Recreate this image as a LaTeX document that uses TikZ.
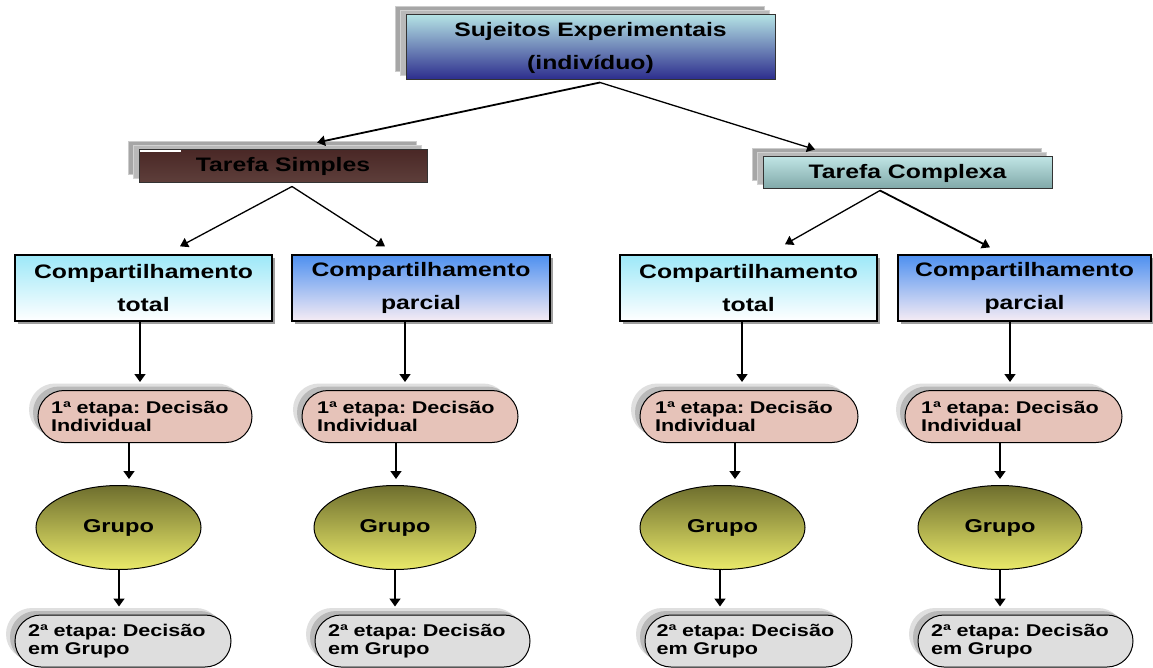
\documentclass[tikz,border=0pt]{standalone}
\usepackage{fontspec}
\setmainfont{Liberation Sans}[FakeStretch=1.27]
\usetikzlibrary{shadows,shapes.geometric,arrows.meta,calc}
\definecolor{topT}{HTML}{B4E2E4}
\definecolor{topB}{HTML}{2B2B8C}
\definecolor{tsT}{HTML}{4A2826}
\definecolor{tsB}{HTML}{5E3F3B}
\definecolor{tcT}{HTML}{BFE4E4}
\definecolor{tcB}{HTML}{7FA7A7}
\definecolor{bAT}{HTML}{9DE8F8}
\definecolor{bBT}{HTML}{4E90F0}
\definecolor{bBB}{HTML}{F6ECF4}
\definecolor{pillA}{HTML}{E6C3B9}
\definecolor{pillB}{HTML}{DEDEDE}
\definecolor{ellT}{HTML}{6E6E2E}
\definecolor{ellB}{HTML}{EAEA6A}
\frenchspacing
\begin{document}
\begin{tikzpicture}[x=1pt,y=-1pt,
  arr/.style={-{Triangle[length=8pt,width=10pt]}, line width=1.3pt},
  varr/.style={-{Triangle[length=8pt,width=11pt]}, line width=1.6pt},
  stackshadow/.style={
    drop shadow={shadow xshift=-11pt,shadow yshift=8pt,fill=gray!70,draw=gray!40,opacity=1},
    drop shadow={shadow xshift=-6pt,shadow yshift=4pt,fill=gray!55,draw=gray!35,opacity=1}},
  headbox/.style={rectangle, draw=black!80, line width=1pt, inner sep=0pt, align=center,
    font=\fontsize{19.5}{33}\selectfont\bfseries, stackshadow},
  compbox/.style={rectangle, draw=black, line width=1.3pt, inner sep=0pt, align=center,
    minimum height=66pt, font=\fontsize{19.5}{33}\selectfont\bfseries,
    drop shadow={shadow xshift=3pt,shadow yshift=-3pt,fill=gray!75,opacity=1}},
  pillshadow/.style={
    drop shadow={shadow xshift=-9pt,shadow yshift=7pt,fill=gray!25,opacity=1},
    drop shadow={shadow xshift=-5pt,shadow yshift=4pt,fill=gray!55,opacity=1}},
  pill/.style={rectangle, rounded corners=26pt, draw=black, line width=1pt,
    minimum height=52pt, inner sep=0pt, align=left,
    execute at begin node={\hyphenpenalty=10000\relax},
    font=\fontsize{17}{18.5}\selectfont\bfseries, pillshadow},
  grupo/.style={ellipse, draw=black, line width=1pt, inner sep=0pt,
    minimum width=165pt, minimum height=84pt, top color=ellT, bottom color=ellB,
    font=\fontsize{18.6}{22}\selectfont\bfseries}
]
\useasboundingbox[fill=white] (0,0) rectangle (1153,668);

% heads
\node[headbox, minimum width=369pt, minimum height=65pt, top color=topT, bottom color=topB]
  (se) at (590.5,47.5) {Sujeitos Experimentais\\(indivíduo)};
\node[headbox, minimum width=288pt, minimum height=33pt, top color=tsT, bottom color=tsB]
  (ts) at (283,166.5) {Tarefa Simples};
\draw[white, line width=2pt] ($(ts.north west)+(1,2)$) -- ($(ts.north west)+(42,2)$);
\node[headbox, minimum width=289pt, minimum height=32pt, top color=tcT, bottom color=tcB]
  (tc) at (907.5,173) {Tarefa Complexa};

% compartilhamento boxes
\node[compbox, minimum width=257pt, top color=bAT, bottom color=white] (b1) at (143.5,288) {Compartilhamento\\total};
\node[compbox, minimum width=258pt, top color=bBT, bottom color=bBB] (b2) at (421,288) {Compartilhamento\\parcial};
\node[compbox, minimum width=257pt, top color=bAT, bottom color=white] (b3) at (748.5,288) {Compartilhamento\\total};
\node[compbox, minimum width=253pt, top color=bBT, bottom color=bBB] (b4) at (1024.5,288) {Compartilhamento\\parcial};

% first stage pills
\node[pill, fill=pillA, minimum width=214pt, text width=188pt] (p1) at (145,416.5) {1ª etapa: Decisão\\Individual};
\node[pill, fill=pillA, minimum width=216pt, text width=186pt] (p2) at (410,416.5) {1ª etapa: Decisão\\Individual};
\node[pill, fill=pillA, minimum width=218pt, text width=188pt] (p3) at (749,416.5) {1ª etapa: Decisão\\Individual};
\node[pill, fill=pillA, minimum width=217pt, text width=185pt] (p4) at (1013.5,416.5) {1ª etapa: Decisão\\Individual};

% grupo ellipses
\node[grupo] (e1) at (118.5,527.5) {Grupo};
\node[grupo, minimum width=162pt] (e2) at (395,527.5) {Grupo};
\node[grupo] (e3) at (722.5,527.5) {Grupo};
\node[grupo, minimum width=164pt] (e4) at (1000,527.5) {Grupo};

% second stage pills
\node[pill, fill=pillB, minimum width=216pt, text width=190pt] (q1) at (123,641) {2ª etapa: Decisão\\em Grupo};
\node[pill, fill=pillB, minimum width=215pt, text width=189pt] (q2) at (422.5,641) {2ª etapa: Decisão\\em Grupo};
\node[pill, fill=pillB, minimum width=207pt, text width=184pt] (q3) at (748.5,641) {2ª etapa: Decisão\\em Grupo};
\node[pill, fill=pillB, minimum width=215pt, text width=189pt] (q4) at (1025.5,641) {2ª etapa: Decisão\\em Grupo};

% top connectors
\draw[arr, line width=1.8pt] ($(se.south)+(9.5,2)$) -- ($(ts.north)+(34,-7)$);
\draw[arr] ($(se.south)+(9.5,2)$) -- ($(tc.north)+(-92.5,-7)$);
\draw[arr] ($(ts.south)+(9,3)$) -- ($(b1.north)+(36.5,-8)$);
\draw[arr] ($(ts.south)+(9,3)$) -- ($(b2.north)+(-36,-8)$);
\draw[arr] ($(tc.south)+(-27.5,1)$) -- ($(b3.north)+(36.5,-10)$);
\draw[arr, line width=1.8pt] ($(tc.south)+(-27.5,1)$) -- ($(b4.north)+(-34.5,-7)$);

% vertical connectors
\draw[varr] ($(b1.south)+(-3.5,0)$) -- ($(p1.north)+(-5,-8)$);
\draw[varr] ($(b2.south)+(-16,0)$) -- ($(p2.north)+(-5,-8)$);
\draw[varr] ($(b3.south)+(-6.5,0)$) -- ($(p3.north)+(-7,-8)$);
\draw[varr] ($(b4.south)+(-14.5,0)$) -- ($(p4.north)+(-3.5,-8)$);

\draw[varr] ($(p1.south)+(-16,0)$) -- ($(e1.north)+(10.5,-6)$);
\draw[varr] ($(p2.south)+(-14,0)$) -- ($(e2.north)+(1,-6)$);
\draw[varr] ($(p3.south)+(-14,0)$) -- ($(e3.north)+(12.5,-6)$);
\draw[varr] ($(p4.south)+(-13.5,0)$) -- ($(e4.north)+(0,-6)$);

\draw[varr] ($(e1.south)+(0.5,0)$) -- ($(q1.north)+(-4,-8)$);
\draw[varr] (e2.south) -- ($(q2.north)+(-27.5,-8)$);
\draw[varr] ($(e3.south)+(-2.5,0)$) -- ($(q3.north)+(-28.5,-8)$);
\draw[varr] (e4.south) -- ($(q4.north)+(-25.5,-8)$);
\end{tikzpicture}
\end{document}
